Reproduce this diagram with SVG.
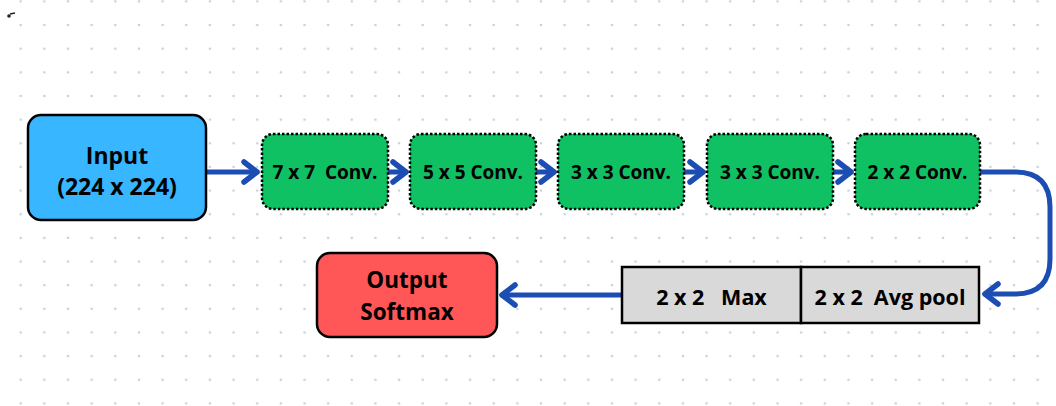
<svg xmlns="http://www.w3.org/2000/svg" width="1056" height="406" viewBox="0 0 1056 406">
<style>
.t{font-family:"Open Sans","Liberation Sans",sans-serif;font-weight:700;fill:#000;text-anchor:middle}
.conv rect{fill:#0fc162;stroke:#000;stroke-width:2.5;stroke-dasharray:2.5 2}
.conn{fill:none;stroke:#1c4db3;stroke-width:5;stroke-linecap:round;stroke-linejoin:round}
</style>
<defs>
<pattern id="dots" patternUnits="userSpaceOnUse" x="8.9" y="13.2" width="23.65" height="23.65">
<circle cx="11.8" cy="11.8" r="1.3" fill="#c9d0da"/>
</pattern>
<marker id="ah" markerUnits="userSpaceOnUse" viewBox="-20 -14 24 28" refX="0" refY="0" markerWidth="24" markerHeight="28" orient="auto">
<path d="M-13,-10 L0,0 L-13,10" fill="none" stroke="#1c4db3" stroke-width="5.5" stroke-linecap="round" stroke-linejoin="round"/>
</marker>
</defs>
<rect width="1056" height="406" fill="#fff"/>
<rect width="1056" height="406" fill="url(#dots)"/>
<circle cx="9" cy="16" r="1.8" fill="#222"/>
<path d="M10,14 L15,13" stroke="#222" stroke-width="1.3" fill="none"/>

<g id="connectors">
<path class="conn" d="M207,172 H257" marker-end="url(#ah)"/>
<path class="conn" d="M389,172 H406" marker-end="url(#ah)"/>
<path class="conn" d="M537,172 H554" marker-end="url(#ah)"/>
<path class="conn" d="M685,172 H703" marker-end="url(#ah)"/>
<path class="conn" d="M833,172 H851" marker-end="url(#ah)"/>
<path class="conn" d="M981,172 H1015 Q1050,172 1050,207 V259 Q1050,294 1015,294 H985" marker-end="url(#ah)"/>
<path class="conn" d="M621,295 H502" marker-end="url(#ah)"/>
</g>

<g id="input">
<rect x="28" y="115" width="178" height="105" rx="13" fill="#38b6ff" stroke="#000" stroke-width="2.5"/>
<text class="t" x="117" y="164" font-size="23">Input</text>
<text class="t" x="117" y="195" font-size="23">(224 x 224)</text>
</g>

<g id="conv1" class="conv">
<rect x="262" y="134" width="126" height="75" rx="11"/>
<text class="t" x="325" y="179" font-size="19" xml:space="preserve">7 x 7  Conv.</text>
</g>
<g id="conv2" class="conv">
<rect x="410" y="134" width="126" height="75" rx="11"/>
<text class="t" x="473" y="179" font-size="19">5 x 5 Conv.</text>
</g>
<g id="conv3" class="conv">
<rect x="558" y="134" width="126" height="75" rx="11"/>
<text class="t" x="621" y="179" font-size="19">3 x 3 Conv.</text>
</g>
<g id="conv4" class="conv">
<rect x="707" y="134" width="126" height="75" rx="11"/>
<text class="t" x="770" y="179" font-size="19">3 x 3 Conv.</text>
</g>
<g id="conv5" class="conv">
<rect x="855" y="134" width="125" height="75" rx="11"/>
<text class="t" x="917.5" y="179" font-size="19">2 x 2 Conv.</text>
</g>

<g id="maxpool">
<rect x="622" y="267" width="179" height="56" fill="#d9d9d9" stroke="#000" stroke-width="2.5"/>
<text class="t" x="711.5" y="305" font-size="21.5" xml:space="preserve">2 x 2   Max</text>
</g>
<g id="avgpool">
<rect x="801" y="267" width="178" height="56" fill="#d9d9d9" stroke="#000" stroke-width="2.5"/>
<text class="t" x="890" y="305" font-size="21.5" xml:space="preserve">2 x 2  Avg pool</text>
</g>

<g id="output">
<rect x="317" y="253" width="180" height="84" rx="13" fill="#ff5757" stroke="#000" stroke-width="2.5"/>
<text class="t" x="407" y="288" font-size="22.5">Output</text>
<text class="t" x="407" y="320" font-size="22.5">Softmax</text>
</g>
</svg>
